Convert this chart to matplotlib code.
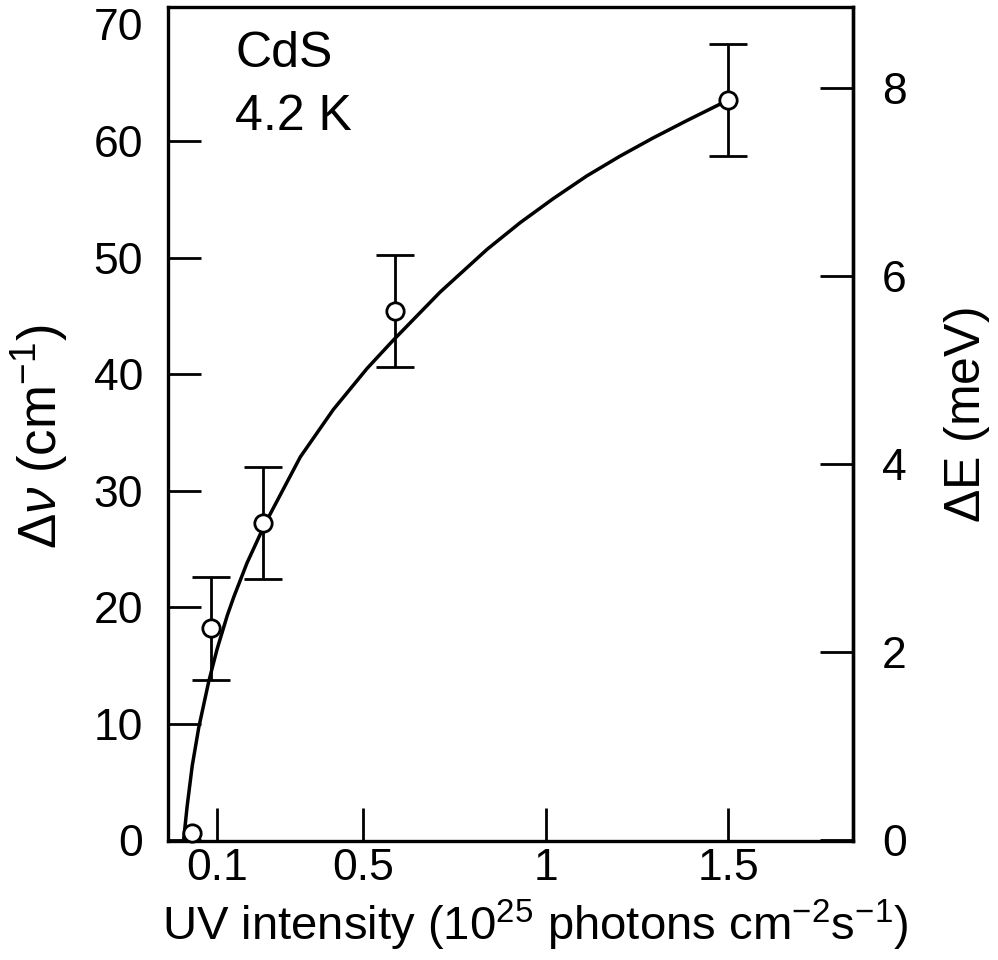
import matplotlib
matplotlib.use('Agg')
import matplotlib.pyplot as plt

plt.rcParams['font.family'] = ['Liberation Sans', 'DejaVu Sans']
plt.rcParams['mathtext.fontset'] = 'custom'
plt.rcParams['mathtext.rm'] = 'Liberation Sans'
plt.rcParams['mathtext.it'] = 'Liberation Sans:italic'
plt.rcParams['mathtext.bf'] = 'Liberation Sans:bold'

intensity = [0.033, 0.085, 0.228, 0.588, 1.50]
shift = [0.6, 18.2, 27.2, 45.4, 63.5]
# error bars only on the last four points
err_intensity = [0.085, 0.228, 0.588, 1.50]
err_shift = [18.2, 27.2, 45.4, 63.5]
err_size = [4.4, 4.8, 4.8, 4.8]

# fitted curve, points
fit_x = [0.010, 0.019, 0.033, 0.051, 0.078, 0.101, 0.129, 0.147, 0.183,
         0.233, 0.329, 0.419, 0.512, 0.583, 0.712, 0.840, 0.931, 1.021,
         1.113, 1.204, 1.294, 1.387, 1.477, 1.497]
fit_y = [0.2, 2.9, 6.4, 9.7, 13.6, 16.4, 19.3, 20.9, 23.8,
         27.2, 32.9, 36.95, 40.5, 42.9, 47.05, 50.7, 53.0, 55.05,
         57.0, 58.7, 60.25, 61.75, 63.15, 63.45]

x_ticks = [0.1, 0.5, 1, 1.5]
x_ticklabels = ['0.1', '0.5', '1', '1.5']
y_ticks = [0, 10, 20, 30, 40, 50, 60, 70]
mev_ticks = [0, 2, 4, 6, 8]

CM_PER_MEV = 8.0655


def cm_to_mev(v):
    return v / CM_PER_MEV


def mev_to_cm(e):
    return e * CM_PER_MEV


fig = plt.figure(figsize=(9.98, 9.6), dpi=100)
ax = fig.add_axes([0.1683, 0.124, 0.6864, 0.8688])

ax.plot(fit_x, fit_y, color='black', lw=2.5, zorder=2,
        solid_joinstyle='round')
ax.errorbar(err_intensity, err_shift, yerr=err_size, fmt='none',
            ecolor='black', elinewidth=2.0, capsize=14, capthick=2.0,
            zorder=2)
ax.plot(intensity, shift, 'o', ms=12.5, mfc='white', mec='black',
        mew=2.0, zorder=3, clip_on=False)

ax.set_xlim(-0.0334, 1.8416)
ax.set_ylim(-0.05, 71.5)

for s in ax.spines.values():
    s.set_linewidth(2.4)

ax.set_xticks(x_ticks)
ax.set_xticklabels(x_ticklabels)
ax.set_yticks(y_ticks)
ax.tick_params(axis='both', direction='in', length=24, width=2.0,
               labelsize=32, top=False, right=False)
ax.tick_params(axis='x', pad=5)
ax.tick_params(axis='y', pad=18)
# no tick mark at 70, only the label
ax.yaxis.get_major_ticks()[-1].tick1line.set_visible(False)

sec = ax.secondary_yaxis('right', functions=(cm_to_mev, mev_to_cm))
sec.set_yticks(mev_ticks)
sec.tick_params(direction='in', length=24, width=2.0, labelsize=32, pad=21)
sec.spines['right'].set_linewidth(2.4)

ax.set_xlabel('UV intensity (10$^{25}$ photons cm$^{-2}$s$^{-1}$)',
              fontsize=34)
ax.xaxis.set_label_coords(0.536, -0.068)
ax.set_ylabel(r'$\Delta\nu$ (cm$^{-1}$)', fontsize=38, va='center')
ax.yaxis.set_label_coords(-0.187, 0.485)
sec.set_ylabel(r'$\Delta$E (meV)', fontsize=36, va='center')
sec.yaxis.set_label_coords(1.166, 0.51, transform=ax.transAxes)

ax.text(0.098, 0.928, 'CdS', transform=ax.transAxes, fontsize=36,
        va='baseline', ha='left')
ax.text(0.098, 0.8525, '4.2 K', transform=ax.transAxes, fontsize=36,
        va='baseline', ha='left')

fig.savefig('out.png', dpi=100)
